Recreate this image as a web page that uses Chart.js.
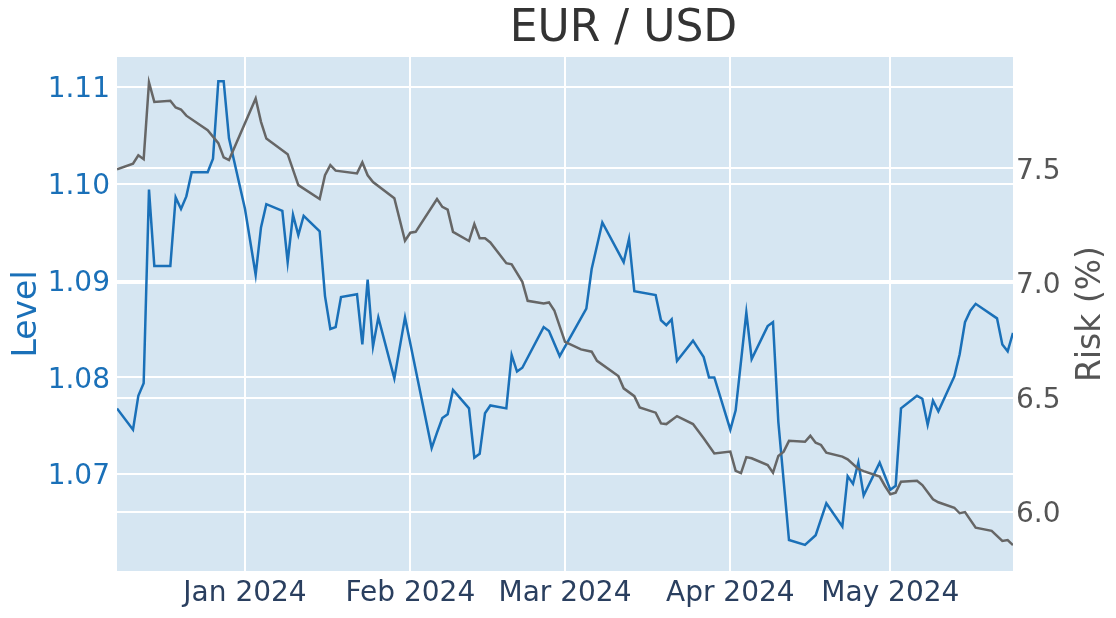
<!DOCTYPE html>
<html>
<head>
<meta charset="utf-8">
<title>EUR / USD</title>
<script src="https://cdn.jsdelivr.net/npm/chart.js@4.4.1/dist/chart.umd.min.js"></script>
<style>
  body { margin: 0; background: #fff; }
  #wrap { width: 1116px; height: 618px; }
</style>
</head>
<body>
<div id="wrap"><canvas id="fxChart" width="1116" height="618"></canvas></div>
<script>
// EUR/USD level (left axis)
var levelDates = [
  '2023-12-08','2023-12-11','2023-12-12','2023-12-13','2023-12-14','2023-12-15',
  '2023-12-18','2023-12-19','2023-12-20','2023-12-21','2023-12-22','2023-12-25',
  '2023-12-26','2023-12-27','2023-12-28','2023-12-29','2024-01-01','2024-01-03',
  '2024-01-04','2024-01-05','2024-01-08','2024-01-09','2024-01-10','2024-01-11',
  '2024-01-12','2024-01-15','2024-01-16','2024-01-17','2024-01-18','2024-01-19',
  '2024-01-22','2024-01-23','2024-01-24','2024-01-25','2024-01-26','2024-01-29',
  '2024-01-31','2024-02-05','2024-02-06','2024-02-07','2024-02-08','2024-02-09',
  '2024-02-12','2024-02-13','2024-02-14','2024-02-15','2024-02-16','2024-02-19',
  '2024-02-20','2024-02-21','2024-02-22','2024-02-26','2024-02-27','2024-02-29',
  '2024-03-05','2024-03-06','2024-03-08','2024-03-12','2024-03-13','2024-03-14',
  '2024-03-18','2024-03-19','2024-03-20','2024-03-21','2024-03-22','2024-03-25',
  '2024-03-27','2024-03-28','2024-03-29','2024-04-01','2024-04-02','2024-04-04',
  '2024-04-05','2024-04-08','2024-04-09','2024-04-10','2024-04-12','2024-04-15',
  '2024-04-17','2024-04-19','2024-04-22','2024-04-23','2024-04-24','2024-04-25',
  '2024-04-26','2024-04-29','2024-05-01','2024-05-02','2024-05-03','2024-05-06',
  '2024-05-07','2024-05-08','2024-05-09','2024-05-10','2024-05-13','2024-05-14',
  '2024-05-15','2024-05-16','2024-05-17','2024-05-21','2024-05-22','2024-05-23',
  '2024-05-24'
];
var levelValues = [
  1.0768, 1.0746, 1.0781, 1.0794, 1.0994, 1.0915,
  1.0915, 1.0986, 1.0974, 1.0987, 1.1012, 1.1012,
  1.1026, 1.1106, 1.1106, 1.1047, 1.0974, 1.0906,
  1.0955, 1.0979, 1.0972, 1.0919, 1.0968, 1.0947,
  1.0967, 1.0951, 1.0884, 1.0850, 1.0852, 1.0883,
  1.0886, 1.0834, 1.0901, 1.0832, 1.0862, 1.0799,
  1.0862, 1.0727, 1.0743, 1.0758, 1.0762, 1.0787,
  1.0768, 1.0717, 1.0721, 1.0763, 1.0771, 1.0768,
  1.0823, 1.0806, 1.0810, 1.0852, 1.0848, 1.0822,
  1.0871, 1.0912, 1.0960, 1.0919, 1.0943, 1.0889,
  1.0885, 1.0859, 1.0854, 1.0860, 1.0817, 1.0838,
  1.0821, 1.0800, 1.0800, 1.0746, 1.0766, 1.0867,
  1.0819, 1.0853, 1.0857, 1.0754, 1.0632, 1.0627,
  1.0637, 1.0670, 1.0646, 1.0698, 1.0690, 1.0712,
  1.0678, 1.0712, 1.0684, 1.0688, 1.0768, 1.0781,
  1.0778, 1.0751, 1.0776, 1.0765, 1.0801, 1.0824,
  1.0857, 1.0869, 1.0876, 1.0861, 1.0834, 1.0827,
  1.0846
];

// risk in % (right axis)
var riskDates = [
  '2023-12-08','2023-12-11','2023-12-12','2023-12-13','2023-12-14','2023-12-15',
  '2023-12-18','2023-12-19','2023-12-20','2023-12-21','2023-12-25','2023-12-27',
  '2023-12-28','2023-12-29','2024-01-03','2024-01-04','2024-01-05','2024-01-09',
  '2024-01-11','2024-01-15','2024-01-16','2024-01-17','2024-01-18','2024-01-22',
  '2024-01-23','2024-01-24','2024-01-25','2024-01-29','2024-01-31','2024-02-01',
  '2024-02-02','2024-02-06','2024-02-07','2024-02-08','2024-02-09','2024-02-12',
  '2024-02-13','2024-02-14','2024-02-15','2024-02-16','2024-02-19','2024-02-20',
  '2024-02-22','2024-02-23','2024-02-26','2024-02-27','2024-02-28','2024-03-01',
  '2024-03-04','2024-03-06','2024-03-07','2024-03-11','2024-03-12','2024-03-14',
  '2024-03-15','2024-03-18','2024-03-19','2024-03-20','2024-03-22','2024-03-25',
  '2024-03-27','2024-03-29','2024-04-01','2024-04-02','2024-04-03','2024-04-04',
  '2024-04-05','2024-04-08','2024-04-09','2024-04-10','2024-04-11','2024-04-12',
  '2024-04-15','2024-04-16','2024-04-17','2024-04-18','2024-04-19','2024-04-22',
  '2024-04-23','2024-04-25','2024-04-26','2024-04-29','2024-04-30','2024-05-01',
  '2024-05-02','2024-05-03','2024-05-06','2024-05-07','2024-05-09','2024-05-10',
  '2024-05-13','2024-05-14','2024-05-15','2024-05-17','2024-05-20','2024-05-22',
  '2024-05-23','2024-05-24'
];
var riskValues = [
  7.496, 7.52, 7.557, 7.54, 7.875, 7.79,
  7.795, 7.766, 7.757, 7.73, 7.667, 7.61,
  7.548, 7.536, 7.805, 7.703, 7.63, 7.562,
  7.427, 7.366, 7.47, 7.514, 7.49, 7.478,
  7.526, 7.47, 7.44, 7.37, 7.184, 7.219,
  7.223, 7.366, 7.332, 7.32, 7.223, 7.183,
  7.257, 7.195, 7.195, 7.177, 7.086, 7.081,
  7.005, 6.922, 6.91, 6.915, 6.88, 6.743,
  6.71, 6.70, 6.66, 6.594, 6.54, 6.506,
  6.457, 6.434, 6.387, 6.384, 6.419, 6.384,
  6.322, 6.256, 6.264, 6.18, 6.17, 6.24,
  6.235, 6.205, 6.172, 6.245, 6.264, 6.311,
  6.307, 6.333, 6.303, 6.293, 6.259, 6.242,
  6.23, 6.188, 6.179, 6.155, 6.114, 6.078,
  6.085, 6.133, 6.137, 6.118, 6.056, 6.043,
  6.019, 5.995, 6.0, 5.932, 5.918, 5.874,
  5.878, 5.856
];

var tickDates = ['2024-01-01', '2024-02-01', '2024-03-01', '2024-04-01', '2024-05-01'];
var tickLabels = ['Jan 2024', 'Feb 2024', 'Mar 2024', 'Apr 2024', 'May 2024'];
var levelTicks = [1.07, 1.08, 1.09, 1.10, 1.11];
var riskTicks = [6.0, 6.5, 7.0, 7.5];

var blue = '#1a70b8';
var grey = '#666666';
var plotBg = '#d6e6f2';

// days since 1 Jan 2024, so the x axis can be a plain linear scale
function dayNum(s) {
    var p = s.split('-');
    return (Date.UTC(+p[0], p[1] - 1, +p[2]) - Date.UTC(2024, 0, 1)) / 86400000;
}

function toPoints(dates, values) {
    return dates.map(function (d, i) { return { x: dayNum(d), y: values[i] }; });
}

var tickDays = tickDates.map(dayNum);

var plotBackground = {
    id: 'plotBackground',
    beforeDraw: function (chart) {
        var a = chart.chartArea;
        var ctx = chart.ctx;
        ctx.save();
        ctx.fillStyle = plotBg;
        ctx.fillRect(a.left, a.top, a.right - a.left, a.bottom - a.top);
        ctx.restore();
    }
};

// the original title sits a bit right of centre
var titleShift = {
    id: 'titleShift',
    afterLayout: function (chart) {
        if (chart.titleBlock) {
            chart.titleBlock.left = 131;
            chart.titleBlock.right = 1116;
        }
    }
};

// right axis title reads bottom-to-top like the left one
var riskTitle = {
    id: 'riskTitle',
    afterDraw: function (chart) {
        var a = chart.chartArea;
        var ctx = chart.ctx;
        ctx.save();
        ctx.translate(chart.scales.yRisk.right - 25, (a.top + a.bottom) / 2);
        ctx.rotate(-Math.PI / 2);
        ctx.font = "33px 'DejaVu Sans', sans-serif";
        ctx.fillStyle = '#555555';
        ctx.textAlign = 'center';
        ctx.textBaseline = 'middle';
        ctx.fillText('Risk (%)', 0, 0);
        ctx.restore();
    }
};

Chart.defaults.font.family = "'DejaVu Sans', sans-serif";

var ctx = document.getElementById('fxChart').getContext('2d');
var fxChart = new Chart(ctx, {
    type: 'line',
    data: {
        datasets: [{
            label: 'Risk (%)',
            data: toPoints(riskDates, riskValues),
            yAxisID: 'yRisk',
            borderColor: grey,
            borderWidth: 2.5,
            pointRadius: 0,
            order: 0
        }, {
            label: 'Level',
            data: toPoints(levelDates, levelValues),
            yAxisID: 'yLevel',
            borderColor: blue,
            borderWidth: 2.5,
            pointRadius: 0,
            order: 1
        }]
    },
    options: {
        responsive: false,
        animation: false,
        devicePixelRatio: 1,
        layout: { padding: 0 },
        plugins: {
            legend: { display: false },
            tooltip: { enabled: false },
            title: {
                display: true,
                text: 'EUR / USD',
                color: '#333',
                font: { size: 44, weight: 'normal' },
                padding: { top: 3, bottom: 1.2 }
            }
        },
        scales: {
            x: {
                type: 'linear',
                min: dayNum(levelDates[0]),
                max: dayNum(levelDates[levelDates.length - 1]),
                afterBuildTicks: function (scale) {
                    scale.ticks = tickDays.map(function (v) { return { value: v }; });
                },
                afterFit: function (scale) { scale.height = 47; },
                ticks: {
                    autoSkip: false,
                    maxRotation: 0,
                    padding: 6,
                    color: '#2a3f5f',
                    font: { size: 28 },
                    callback: function (value, index) { return tickLabels[index]; }
                },
                grid: { color: '#ffffff', lineWidth: 2, drawTicks: false },
                border: { display: false }
            },
            yLevel: {
                type: 'linear',
                position: 'left',
                min: 1.0600,
                max: 1.1131,
                afterBuildTicks: function (scale) {
                    scale.ticks = levelTicks.map(function (v) { return { value: v }; });
                },
                afterFit: function (scale) { scale.width = 117; },
                ticks: {
                    padding: 7,
                    labelOffset: 3,
                    color: blue,
                    font: { size: 28 },
                    callback: function (value) { return value.toFixed(2); }
                },
                title: {
                    display: true,
                    text: 'Level',
                    color: blue,
                    font: { size: 33 },
                    padding: { top: 8, bottom: 0 }
                },
                grid: { color: '#ffffff', lineWidth: 2, drawTicks: false },
                border: { display: false }
            },
            yRisk: {
                type: 'linear',
                position: 'right',
                min: 5.743,
                max: 7.986,
                afterBuildTicks: function (scale) {
                    scale.ticks = riskTicks.map(function (v) { return { value: v }; });
                },
                afterFit: function (scale) { scale.width = 103; },
                ticks: {
                    padding: 3,
                    labelOffset: 3,
                    color: '#555555',
                    font: { size: 28 },
                    callback: function (value) { return value.toFixed(1); }
                },
                title: { display: false },
                grid: { color: '#ffffff', lineWidth: 2, drawTicks: false },
                border: { display: false }
            }
        }
    },
    plugins: [plotBackground, titleShift, riskTitle]
});
</script>
</body>
</html>
